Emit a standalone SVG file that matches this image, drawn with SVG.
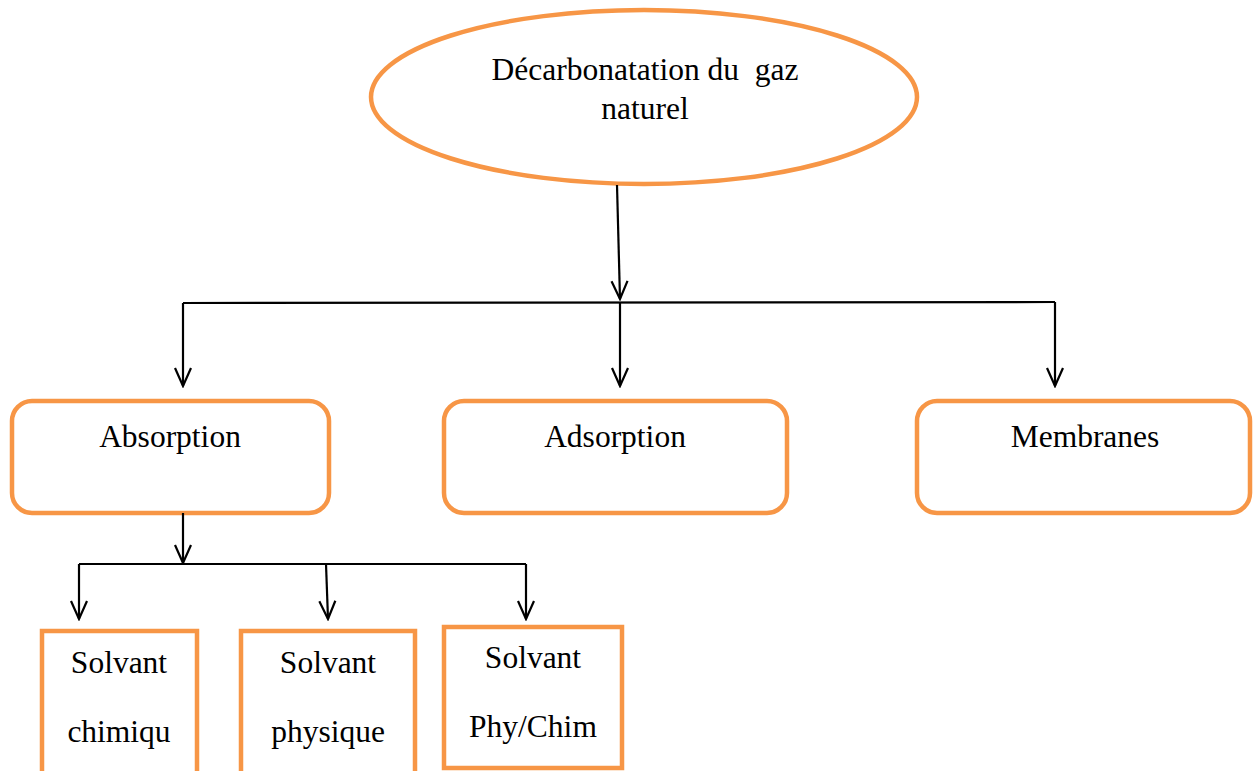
<svg xmlns="http://www.w3.org/2000/svg" width="1253" height="771" viewBox="0 0 1253 771">
<style>
.node{fill:#fff;stroke:#F79646;stroke-width:4.5}
.lbl{font-family:'Liberation Serif','DejaVu Serif',serif;font-size:31.5px;fill:#000;text-anchor:middle}
.con{stroke:#000;stroke-width:2.2;fill:none}
</style>
<defs>
<marker id="arr" viewBox="-20 -10 22 20" refX="0" refY="0" markerWidth="22" markerHeight="20" markerUnits="userSpaceOnUse" orient="auto">
<path d="M-18,-8 L0,0 L-18,8" fill="none" stroke="#000" stroke-width="2.2"/>
</marker>
</defs>
<rect width="1253" height="771" fill="#fff"/>
<g id="root">
<ellipse class="node" cx="644" cy="97" rx="273" ry="87" stroke-width="4"/>
<text class="lbl" font-family="Liberation Serif, serif" x="645" y="80" xml:space="preserve">Décarbonatation du  gaz</text>
<text class="lbl" font-family="Liberation Serif, serif" x="645" y="119">naturel</text>
</g>
<g id="absorption">
<rect class="node" x="12" y="401" width="317" height="112" rx="20"/>
<text class="lbl" font-family="Liberation Serif, serif" x="170" y="447">Absorption</text>
</g>
<g id="adsorption">
<rect class="node" x="444" y="401" width="343" height="112" rx="20"/>
<text class="lbl" font-family="Liberation Serif, serif" x="615" y="447">Adsorption</text>
</g>
<g id="membranes">
<rect class="node" x="917" y="401" width="333" height="112" rx="20"/>
<text class="lbl" font-family="Liberation Serif, serif" x="1085" y="447">Membranes</text>
</g>
<g id="chimique">
<rect class="node" x="42" y="631" width="155" height="150"/>
<text class="lbl" font-family="Liberation Serif, serif" x="119" y="673">Solvant</text>
<text class="lbl" font-family="Liberation Serif, serif" x="119" y="742">chimiqu</text>
</g>
<g id="physique">
<rect class="node" x="241" y="631" width="174" height="150"/>
<text class="lbl" font-family="Liberation Serif, serif" x="328" y="673">Solvant</text>
<text class="lbl" font-family="Liberation Serif, serif" x="328" y="742">physique</text>
</g>
<g id="phychim">
<rect class="node" x="444" y="627" width="178" height="141"/>
<text class="lbl" font-family="Liberation Serif, serif" x="533" y="668">Solvant</text>
<text class="lbl" font-family="Liberation Serif, serif" x="533" y="737">Phy/Chim</text>
</g>
<g id="connectors">
<line class="con" x1="617" y1="185" x2="620" y2="299" marker-end="url(#arr)"/>
<line class="con" x1="183" y1="303" x2="1055" y2="302"/>
<line class="con" x1="183" y1="303" x2="183" y2="386" marker-end="url(#arr)"/>
<line class="con" x1="620" y1="302" x2="620" y2="386" marker-end="url(#arr)"/>
<line class="con" x1="1055" y1="302" x2="1055" y2="386" marker-end="url(#arr)"/>
<line class="con" x1="183" y1="513" x2="183" y2="563" marker-end="url(#arr)"/>
<line class="con" x1="79" y1="564" x2="526" y2="564"/>
<line class="con" x1="79" y1="564" x2="79" y2="619" marker-end="url(#arr)"/>
<line class="con" x1="326" y1="564" x2="328" y2="619" marker-end="url(#arr)"/>
<line class="con" x1="526" y1="564" x2="526" y2="619" marker-end="url(#arr)"/>
</g>
</svg>
